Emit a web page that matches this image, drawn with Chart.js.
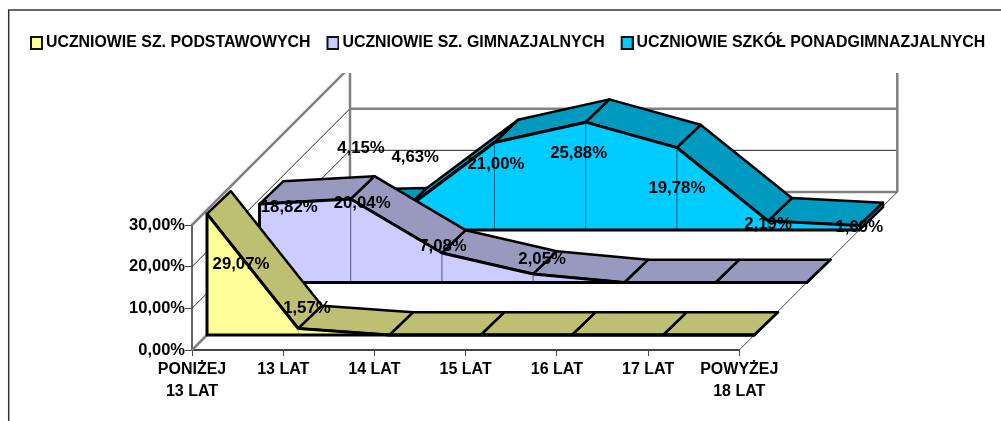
<!DOCTYPE html>
<html lang="pl">
<head>
<meta charset="utf-8">
<title>Uczniowie</title>
<style>html,body{margin:0;padding:0;background:#fff}canvas{display:block}</style>
<script src="https://cdn.jsdelivr.net/npm/chart.js@4/dist/chart.umd.js"></script>
</head>
<body>
<canvas id="c" width="1001" height="421"></canvas>
<script>
const categories = [['PONIŻEJ','13 LAT'],'13 LAT','14 LAT','15 LAT','16 LAT','17 LAT',['POWYŻEJ','18 LAT']];
const seriesNames = ['UCZNIOWIE SZ. PODSTAWOWYCH','UCZNIOWIE SZ. GIMNAZJALNYCH','UCZNIOWIE SZKÓŁ PONADGIMNAZJALNYCH'];
const podstawowe = [29.07,1.57,0,0,0,0,0];
const gimnazjalne = [18.82,20.04,7.08,2.05,0,0,0];
const ponadgimnazjalne = [4.15,4.63,21.00,25.88,19.78,2.19,1.09];
const yMax = 30;
const yStep = 10;

// Styling of the pseudo-3D rendering (not data)
const FONT = {family:'"Liberation Sans", Arial, sans-serif', size:16, weight:'bold'};
const frontColors = ['#FFFF99','#CCCCFF','#00CCFF'];
const topColors = ['#BFBF73','#9999BF','#0099BF'];
const dropColors = ['#BFBF73','#55557A','#00607F'];
const seriesShift = [15,67.5,120];
const depth = {x:23.7,y:-22.8};
const wallShift = 158;
const wallCropTop = 73;
const labelNudges = [
  [[34,50],[8.7,-20]],
  [[29.7,3.4],[11.4,4.5],[1,-7],[9,-15]],
  [[49,-64.7],[12,-53],[1.5,22],[-7,31],[0,40.4],[0,3],[0,1.5]]
];

function swatch(color){
  const c=document.createElement('canvas');c.width=18;c.height=14;
  const g=c.getContext('2d');
  g.fillStyle=color;g.strokeStyle='#111';g.lineWidth=2;
  g.fillRect(6,1,11,12);g.strokeRect(6,1,11,12);
  return c;
}

const depth3d = {
  id:'depth3d',
  beforeLayout(chart){
    const lg=chart.legend;
    if(lg && !lg._wrapped){
      const f=lg.fit;
      lg.fit=function(){this.maxWidth=1300;f.call(this);this.height=206;};
      lg._wrapped=true;
    }
  },
  afterLayout(chart){
    // The single legend row runs slightly past the nominal box width.
    if(chart.legend) chart.legend.right=1300;
  },
  beforeDraw(chart){
    const c=chart.ctx;
    c.save();
    c.strokeStyle='#333';c.lineWidth=1.5;
    c.beginPath();c.moveTo(1001,10);c.lineTo(8.7,10);c.lineTo(8.7,421);c.stroke();
    c.restore();
  },
  beforeDatasetsDraw(chart){
    const c=chart.ctx,a=chart.chartArea,y=chart.scales.y;
    c.save();
    c.beginPath();c.rect(0,wallCropTop,1001,421);c.clip();
    const s=wallShift;
    for(let v=0;v<=yMax;v+=yStep){
      const p=y.getPixelForValue(v);
      const strong=(v===0||v===yMax);
      c.strokeStyle=strong||v===20?'#808080':'#222';
      c.lineWidth=strong||v===20?2.5:1;
      c.beginPath();c.moveTo(a.left+s,p-s);c.lineTo(a.right+s,p-s);c.stroke();
      c.strokeStyle=strong?'#808080':'#222';
      c.lineWidth=strong?2.5:1;
      c.beginPath();c.moveTo(a.left,p);c.lineTo(a.left+s,p-s);c.stroke();
    }
    c.strokeStyle='#808080';c.lineWidth=2.5;
    const t=y.getPixelForValue(yMax)-s,b=y.getPixelForValue(0)-s;
    c.beginPath();c.moveTo(a.left+s,t);c.lineTo(a.left+s,b);c.stroke();
    c.beginPath();c.moveTo(a.right+s,t);c.lineTo(a.right+s,b);c.stroke();
    c.strokeStyle='#444';c.lineWidth=1;
    c.beginPath();c.moveTo(a.right,a.bottom);c.lineTo(a.right+s,b);c.stroke();
    c.restore();
  },
  beforeDatasetDraw(chart,args){
    const c=chart.ctx,i=args.index;
    if(i>=seriesShift.length) return;
    const pts=args.meta.data,base=chart.scales.y.getPixelForValue(0);
    c.save();
    c.translate(seriesShift[i],-seriesShift[i]);
    c.fillStyle=topColors[i];c.strokeStyle='#000';c.lineWidth=2.5;c.lineJoin='round';
    const quad=(ax,ay,bx,by)=>{
      c.beginPath();c.moveTo(ax,ay);c.lineTo(bx,by);
      c.lineTo(bx+depth.x,by+depth.y);c.lineTo(ax+depth.x,ay+depth.y);c.closePath();
      c.fill();c.stroke();
    };
    for(let k=pts.length-2;k>=0;k--) quad(pts[k].x,pts[k].y,pts[k+1].x,pts[k+1].y);
    const l=pts[pts.length-1];
    quad(l.x,l.y,l.x,base);
  },
  afterDatasetDraw(chart,args){
    const c=chart.ctx,i=args.index;
    if(i>=seriesShift.length) return;
    const pts=args.meta.data,base=chart.scales.y.getPixelForValue(0);
    c.strokeStyle=dropColors[i];c.lineWidth=1;
    for(let k=1;k<pts.length-1;k++){
      if(base-pts[k].y<1) continue;
      c.beginPath();c.moveTo(pts[k].x,pts[k].y+1);c.lineTo(pts[k].x,base-1);c.stroke();
    }
    c.strokeStyle='#000';c.lineWidth=3;c.lineCap='round';c.lineJoin='round';
    c.beginPath();c.moveTo(pts[0].x,pts[0].y);c.lineTo(pts[0].x,base);
    c.lineTo(pts[pts.length-1].x,base);c.stroke();
    c.restore();
  },
  afterDatasetsDraw(chart){
    const c=chart.ctx;
    c.save();
    c.font=`${FONT.weight} 16.8px ${FONT.family}`;
    c.fillStyle='#000';c.textAlign='center';c.textBaseline='middle';
    chart.data.datasets.forEach((ds,i)=>{
      const pts=chart.getDatasetMeta(i).data;
      ds.data.forEach((v,k)=>{
        const n=labelNudges[i][k];
        if(!v||!n) return;
        c.fillText(v.toFixed(2).replace('.',',')+'%',pts[k].x+seriesShift[i]+n[0],pts[k].y-seriesShift[i]+n[1]);
      });
    });
    c.restore();
  }
};

// The 3D plugin must translate the context before the filler paints the area.
Chart.unregister(Chart.Filler);
Chart.register(depth3d);
Chart.register(Chart.Filler);

const series=[podstawowe,gimnazjalne,ponadgimnazjalne];
new Chart(document.getElementById('c'),{
  type:'line',
  data:{
    labels:categories,
    datasets:series.map((d,i)=>({
      label:seriesNames[i],data:d,fill:'origin',tension:0,
      backgroundColor:frontColors[i],borderColor:'#000',borderWidth:3,
      borderJoinStyle:'round',pointRadius:0,clip:false
    }))
  },
  options:{
    responsive:false,animation:false,
    layout:{padding:{left:14,top:19,right:0,bottom:0}},
    plugins:{
      tooltip:{enabled:false},
      legend:{
        position:'top',align:'start',
        labels:{
          color:'#000',font:{...FONT,size:15.9},padding:16,usePointStyle:true,boxWidth:8,boxHeight:8,
          generateLabels(chart){
            return chart.data.datasets.map((d,i)=>({
              text:d.label,datasetIndex:i,fontColor:'#000',
              pointStyle:swatch(frontColors[i]),hidden:false,lineWidth:0
            }));
          }
        }
      }
    },
    scales:{
      x:{
        type:'category',offset:false,
        border:{color:'#444',width:2},
        grid:{drawOnChartArea:false,drawTicks:true,tickLength:6,color:'#444',tickWidth:1},
        ticks:{color:'#000',font:{...FONT,lineHeight:1.4},maxRotation:0,minRotation:0,autoSkip:false,padding:2},
        afterFit(s){s.height=71;}
      },
      y:{
        min:0,max:yMax,
        border:{color:'#666',width:2},
        grid:{drawOnChartArea:false,tickLength:7,color:'#444',tickWidth:1},
        ticks:{color:'#000',font:{...FONT,size:16.5},stepSize:yStep,padding:0,
          callback:v=>v.toFixed(2).replace('.',',')+'%'},
        afterFit(s){s.width=178;}
      },
      pad:{
        position:'right',display:true,
        border:{display:false},grid:{display:false},ticks:{display:false},
        afterFit(s){s.width=261.7;}
      }
    }
  }
});
</script>
</body>
</html>
